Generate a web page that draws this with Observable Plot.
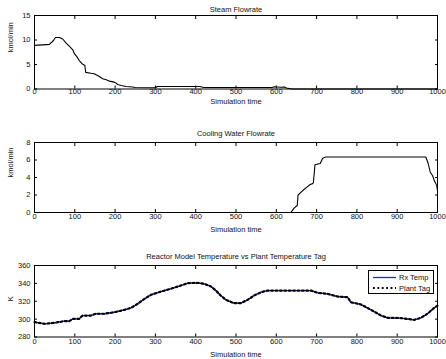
<!DOCTYPE html>
<html>
<head>
<meta charset="utf-8">
<script src="https://cdn.jsdelivr.net/npm/d3@7"></script>
<script src="https://cdn.jsdelivr.net/npm/@observablehq/plot@0.6"></script>
<style>
  html, body { margin: 0; padding: 0; background: #fff; }
  #wrap { position: relative; width: 446px; height: 359px; overflow: hidden; font-family: "Liberation Sans", Arial, sans-serif; }
  #wrap svg { display: block; }
  #legend { position: absolute; left: 368px; top: 270px; width: 66px; height: 24px; border: 1px solid #000; background: #fff; box-sizing: border-box; font-size: 7.5px; }
</style>
</head>
<body>
<div id="wrap"></div>
<script>
// ---- data ----
const xTicks = [0, 100, 200, 300, 400, 500, 600, 700, 800, 900, 1000];

const steamTitle = "Steam Flowrate";
const steamTicks = [0, 5, 10, 15];
const steamT = [0, 20, 37, 47, 52, 62, 70, 79, 87, 95, 99, 105, 111, 119, 125, 127, 140, 148, 160, 169, 178, 186, 198, 203, 206, 215, 227, 243, 250, 300, 305, 310, 410, 415, 420, 590, 595, 610, 620, 625, 640, 1000];
const steamV = [8.9, 9.0, 9.1, 9.9, 10.5, 10.5, 10.2, 9.3, 8.7, 8.0, 7.2, 6.6, 5.8, 5.1, 4.8, 3.4, 3.2, 3.1, 2.6, 2.1, 1.9, 1.6, 1.4, 1.2, 0.9, 0.7, 0.5, 0.4, 0.3, 0.25, 0.5, 0.5, 0.5, 0.4, 0.3, 0.3, 0.45, 0.35, 0.4, 0.2, 0.0, 0.0];

const coolTitle = "Cooling Water Flowrate";
const coolTicks = [0, 2, 4, 6, 8];
const coolT = [0, 636, 644, 652, 654, 661, 668, 676, 684, 690, 692, 696, 709, 715, 723, 971, 977, 982, 988, 992, 998, 1000];
const coolV = [0, 0.0, 0.5, 0.8, 2.0, 2.3, 2.6, 2.9, 3.2, 3.3, 3.4, 5.45, 5.6, 6.2, 6.35, 6.35, 5.6, 4.6, 4.2, 3.65, 3.1, 2.5];

const tempTitle = "Reactor Model Temperature vs Plant Temperature Tag";
const tempTicks = [280, 300, 320, 340, 360];
const tempT = [0, 25, 49, 74, 86, 95, 111, 119, 140, 152, 173, 198, 223, 240, 256, 273, 289, 314, 338, 363, 380, 405, 421, 438, 450, 462, 475, 495, 512, 529, 545, 562, 578, 661, 686, 703, 727, 752, 777, 785, 810, 835, 860, 876, 909, 942, 959, 975, 992, 1000];
const rxTemp = [296.6, 294.8, 295.9, 297.7, 297.7, 300.3, 300.3, 304.0, 304.0, 306.0, 306.0, 307.7, 310.4, 312.7, 317.1, 322.7, 327.2, 330.9, 333.9, 337.6, 340.2, 340.6, 339.5, 336.5, 332.0, 326.4, 321.6, 317.8, 317.8, 321.6, 326.4, 330.1, 332.0, 332.0, 332.0, 329.4, 328.3, 325.3, 324.5, 318.9, 316.4, 310.4, 304.0, 301.5, 301.2, 299.2, 301.5, 306.0, 312.7, 315.2];
const plantTag = [296.6, 294.8, 295.9, 297.7, 297.7, 300.3, 300.3, 304.0, 304.0, 306.0, 306.0, 307.7, 310.4, 312.7, 317.1, 322.7, 327.2, 330.9, 333.9, 337.6, 340.2, 340.6, 339.5, 336.5, 332.0, 326.4, 321.6, 317.8, 317.8, 321.6, 326.4, 330.1, 332.0, 332.0, 332.0, 329.4, 328.3, 325.3, 324.5, 318.9, 316.4, 310.4, 304.0, 301.5, 301.2, 299.2, 301.5, 306.0, 312.7, 315.2];
const seriesNames = ["Rx Temp", "Plant Tag"];
const xLabel = "Simulation time";
const yLabelFlow = "kmol/min";
const yLabelTemp = "K";

// ---- drawing ----
const FONT = "\"Liberation Sans\", Arial, sans-serif";
const fmt = d => String(d);

function panel({height, mt, mb, yDomain, yTicks, title, yLabel, tickOff, titleDy, labelDy, lines}) {
  return Plot.plot({
    width: 446,
    height,
    marginTop: mt,
    marginBottom: mb,
    marginLeft: 34,
    marginRight: 9,
    style: {fontSize: "7.5px", fontFamily: FONT, color: "#111", background: "#fff", overflow: "visible"},
    x: {domain: [0, 1000]},
    y: {domain: yDomain},
    marks: [
      ...lines,
      Plot.frame({stroke: "#000", strokeWidth: 1}),
      Plot.axisX(xTicks, {anchor: "bottom", tickSize: -3, tickPadding: 3 + tickOff, tickFormat: fmt, label: null, stroke: "#000"}),
      Plot.axisX(xTicks, {anchor: "top", tickSize: -3, tickFormat: () => "", label: null, stroke: "#000"}),
      Plot.axisY(yTicks, {anchor: "left", tickSize: -3, tickPadding: 7, tickFormat: fmt, label: null, stroke: "#000"}),
      Plot.axisY(yTicks, {anchor: "right", tickSize: -3, tickFormat: () => "", label: null, stroke: "#000"}),
      Plot.text([title], {frameAnchor: "top", dy: titleDy, text: d => d, lineAnchor: "middle", fill: "#111"}),
      Plot.text([xLabel], {frameAnchor: "bottom", dy: labelDy, text: d => d, lineAnchor: "middle", fill: "#111"}),
      Plot.text([yLabel], {frameAnchor: "left", dx: -24, rotate: -90, text: d => d, lineAnchor: "middle", fill: "#111"})
    ]
  });
}

const steamData = steamT.map((t, i) => ({t, v: steamV[i]}));
const coolData = coolT.map((t, i) => ({t, v: coolV[i]}));
const rxData = tempT.map((t, i) => ({t, v: rxTemp[i]}));
const tagData = tempT.map((t, i) => ({t, v: plantTag[i]}));

const wrap = document.getElementById("wrap");

wrap.appendChild(panel({
  height: 118, mt: 15, mb: 29.5, yDomain: [0, 15], yTicks: steamTicks,
  title: steamTitle, yLabel: yLabelFlow, tickOff: 0, titleDy: -6, labelDy: 12.5,
  lines: [Plot.line(steamData, {x: "t", y: "v", stroke: "#000", strokeWidth: 1.1})]
}));

wrap.appendChild(panel({
  height: 126, mt: 24, mb: 32, yDomain: [0, 8], yTicks: coolTicks,
  title: coolTitle, yLabel: yLabelFlow, tickOff: 1.5, titleDy: -9, labelDy: 17,
  lines: [Plot.line(coolData, {x: "t", y: "v", stroke: "#000", strokeWidth: 1.1})]
}));

wrap.appendChild(panel({
  height: 115, mt: 21, mb: 22.5, yDomain: [280, 360], yTicks: tempTicks,
  title: tempTitle, yLabel: yLabelTemp, tickOff: 1.5, titleDy: -9, labelDy: 17.5,
  lines: [
    Plot.line(rxData, {x: "t", y: "v", stroke: "#2020ff", strokeWidth: 1.3}),
    Plot.line(tagData, {x: "t", y: "v", stroke: "#000", strokeWidth: 2.2, strokeDasharray: "1.8,2.6"})
  ]
}));

// legend (HTML overlay)
const leg = document.createElement("div");
leg.id = "legend";
leg.innerHTML = `
<svg width="64" height="22" style="position:absolute;left:0;top:0">
  <line x1="4" x2="27" y1="6.5" y2="6.5" stroke="#2020ff" stroke-width="1.3"/>
  <line x1="4" x2="27" y1="17" y2="17" stroke="#000" stroke-width="2.2" stroke-dasharray="1.8,2.6"/>
  <text x="30" y="6.5" dy="0.35em" font-size="7.5" font-family='${FONT}' fill="#111">${seriesNames[0]}</text>
  <text x="30" y="17" dy="0.35em" font-size="7.5" font-family='${FONT}' fill="#111">${seriesNames[1]}</text>
</svg>`;
wrap.appendChild(leg);
</script>
</body>
</html>
